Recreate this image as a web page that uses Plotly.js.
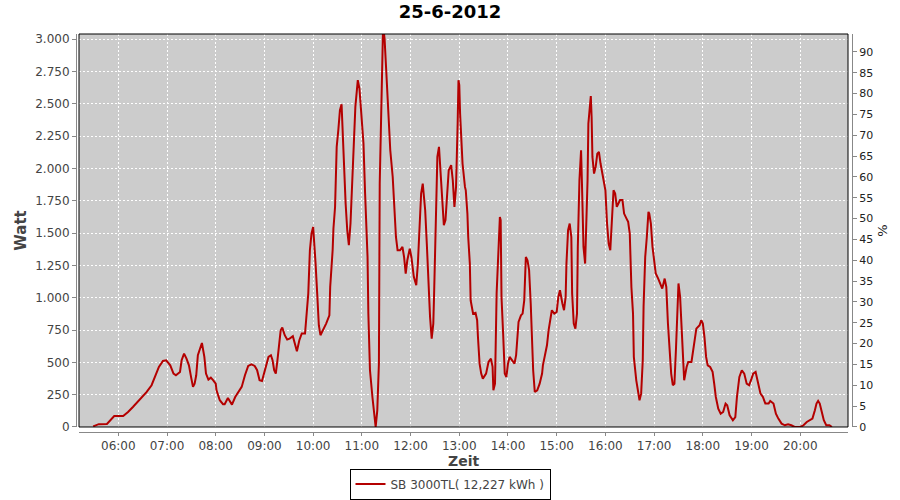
<!DOCTYPE html>
<html>
<head>
<meta charset="utf-8">
<script src="https://cdn.plot.ly/plotly-3.0.1.min.js"></script>
<style>html,body{margin:0;padding:0;background:#fff;}#chart{width:900px;height:500px;}</style>
</head>
<body>
<div id="chart"></div>
<script>
const day = "2012-06-25";
const chartTitle = "25-6-2012";
const xTitle = "Zeit";
const seriesName = "SB 3000TL( 12,227 kWh )";
const times = [
"05:29","05:33","05:36","05:46","05:50","05:55","06:06","06:12","06:18","06:26","06:35","06:41","06:45","06:50","06:55","06:59",
"07:04","07:08","07:11","07:16","07:18","07:21","07:24","07:27","07:30","07:32","07:34","07:36","07:38","07:41","07:43","07:46","07:48","07:51","07:54","07:57",
"08:00","08:01","08:05","08:09","08:11","08:15","08:20","08:24","08:28","08:32","08:36","08:40","08:44","08:48","08:51","08:54","08:57","08:59",
"09:02","09:05","09:08","09:10","09:12","09:14","09:16","09:18","09:20","09:22","09:25","09:28","09:31","09:35","09:38","09:40","09:43","09:46","09:50","09:52","09:54","09:56","09:58",
"10:00","10:01","10:03","10:05","10:07","10:09","10:12","10:16","10:20","10:21","10:24","10:25","10:27","10:28","10:29","10:31","10:33","10:35","10:36","10:38","10:40","10:42","10:44","10:46","10:48","10:50","10:52","10:55","10:57","10:59",
"11:02","11:04","11:07","11:08","11:10","11:13","11:16","11:17","11:19","11:21","11:22","11:24","11:25","11:26","11:27","11:28","11:30","11:33","11:35","11:38","11:40","11:42","11:44","11:47","11:50","11:52","11:54","11:56","11:59",
"12:01","12:04","12:07","12:09","12:11","12:13","12:15","12:18","12:20","12:22","12:24","12:26","12:28","12:29","12:31","12:33","12:35","12:37","12:39","12:41","12:43","12:45","12:47","12:50","12:52","12:54","12:56","12:58","12:59",
"13:00","13:01","13:04","13:06","13:07","13:08","13:10","13:11","13:13","13:14","13:17","13:20","13:22","13:23","13:25","13:27","13:29","13:33","13:36","13:39","13:41","13:42","13:44","13:46","13:48","13:50","13:51","13:52","13:54","13:56","13:58",
"14:00","14:02","14:06","14:08","14:10","14:11","14:13","14:16","14:18","14:20","14:21","14:22","14:24","14:26","14:28","14:29","14:31","14:33","14:36","14:39","14:42","14:43","14:46","14:48","14:50","14:52","14:54","14:57",
"15:00","15:02","15:04","15:07","15:09","15:11","15:12","15:14","15:16","15:18","15:19","15:21","15:23","15:25","15:26","15:28","15:30","15:31","15:33","15:35","15:36","15:38","15:39","15:41","15:42","15:43","15:44","15:46","15:48","15:50","15:52","15:54","15:57",
"16:00","16:02","16:04","16:06","16:08","16:10","16:12","16:14","16:16","16:18","16:21","16:23","16:26","16:28","16:30","16:32","16:34","16:35","16:38","16:40","16:42","16:44","16:46","16:47","16:49","16:51","16:53","16:54","16:56","16:58",
"17:00","17:02","17:05","17:08","17:10","17:13","17:15","17:17","17:19","17:21","17:23","17:25","17:27","17:29","17:30","17:32","17:34","17:36","17:37","17:40","17:42","17:46","17:48","17:50","17:52","17:56","17:58",
"18:00","18:02","18:04","18:06","18:09","18:12","18:14","18:16","18:19","18:22","18:25","18:28","18:30","18:33","18:37","18:40","18:42","18:45","18:48","18:51","18:54","18:57",
"19:00","19:02","19:05","19:08","19:11","19:14","19:17","19:21","19:23","19:27","19:30","19:33","19:37","19:41","19:45","19:49","19:53",
"20:00","20:04","20:08","20:12","20:15","20:18","20:20","20:22","20:24","20:26","20:29","20:32","20:36","20:39"
];
const watts = [
5,15,22,23,50,85,85,116,155,207,271,323,387,464,511,516,
477,413,400,426,516,568,529,477,374,310,335,400,555,619,650,542,413,367,382,361,
335,284,207,176,176,224,173,232,271,310,400,472,485,472,439,361,355,400,
477,542,555,516,439,413,516,645,748,769,710,676,684,702,619,586,671,723,723,851,1032,1367,1497,
1548,1470,1264,1032,787,710,748,800,864,1083,1367,1535,1702,1986,2167,2296,2451,2497,2321,2038,1729,1522,1406,1574,1857,2244,2476,2683,2619,2451,
2193,1806,1315,877,439,232,52,0,129,490,1883,2425,2812,3060,3060,3000,2760,2425,2141,1934,1651,1470,1367,1367,1393,1315,1187,1290,1380,
1315,1161,1096,1264,1574,1806,1883,1677,1419,1058,851,684,800,1032,1574,2089,2167,1986,1729,1561,1600,1780,1986,2025,1909,1703,1857,2347,2683,
2644,2425,2038,1883,1857,1831,1651,1470,1264,980,877,883,826,696,490,413,374,413,503,529,465,284,335,1032,1315,1625,1600,1006,723,413,387,
490,542,503,490,555,671,813,864,877,980,1110,1315,1290,1213,955,748,439,271,284,335,413,477,568,632,748,813,903,877,
890,1006,1058,955,903,1006,1264,1522,1574,1470,1032,800,761,877,1393,1909,2141,1909,1393,1264,1445,1909,2347,2515,2560,2399,2089,1960,2012,2115,2128,2038,1934,
1831,1574,1419,1367,1574,1831,1806,1703,1729,1755,1755,1651,1612,1587,1496,1083,877,542,361,284,207,258,516,929,1315,1470,1664,1651,1574,1393,
1264,1187,1148,1096,1071,1148,1083,800,568,413,323,335,619,955,1110,1006,696,387,361,464,503,503,594,710,761,787,826,
800,696,542,477,464,426,335,232,142,103,116,181,168,90,52,77,232,387,439,413,335,323,
374,413,426,335,258,232,181,181,201,181,103,65,26,13,20,13,0,
0,13,39,52,65,129,181,201,181,129,52,13,13,0
];
const xRange = ["05:11:36", "20:58:48"];
const wattRange = [0, 3040];
const pctRange = [0, 94.3];

const xs = times.map(t => day + " " + t);
const font = "DejaVu Sans, Verdana, sans-serif";
const gray = "#444444";
const axisGray = "#888888";

const trace = {
  x: xs, y: watts, type: "scatter", mode: "lines", name: seriesName,
  line: {color: "#b40000", width: 2},
  xaxis: "x", yaxis: "y", hoverinfo: "skip"
};
// empty trace so that the secondary (%) axis is drawn
const pctAxisTrace = {
  x: [], y: [], type: "scatter", mode: "lines", xaxis: "x", yaxis: "y2",
  showlegend: false, hoverinfo: "skip"
};

const layout = {
  width: 900, height: 500,
  margin: {l: 76, r: 48, t: 34, b: 68, pad: 0, autoexpand: false},
  paper_bgcolor: "#ffffff",
  plot_bgcolor: "#cccccc",
  separators: ",.",
  font: {family: font, size: 12, color: gray},
  title: {text: chartTitle, font: {family: font, size: 18, color: "#000", weight: "bold"},
          x: 0.5, xref: "container", xanchor: "center", y: 0.976, yref: "container", yanchor: "middle"},
  showlegend: true,
  legend: {orientation: "h", x: 0.5, xref: "container", xanchor: "center",
           y: 0.001, yref: "container", yanchor: "bottom",
           bordercolor: "#000", borderwidth: 1, bgcolor: "#fff",
           font: {family: font, size: 12, color: gray}, itemwidth: 30},
  xaxis: {
    type: "date", domain: [0.00387, 0.99485], anchor: "free", position: 0, automargin: false,
    range: [day + " " + xRange[0], day + " " + xRange[1]],
    tickformat: "%H:%M", dtick: 3600000, tick0: day + " 06:00",
    showline: true, linecolor: axisGray, linewidth: 1,
    ticks: "outside", ticklen: 3, tickcolor: axisGray,
    showgrid: true, gridcolor: "#ffffff", gridwidth: 1, griddash: "2px,2px",
    zeroline: false, tickfont: {family: font, size: 12, color: gray}
  },
  yaxis: {
    domain: [0.0126, 1], anchor: "free", position: 0, automargin: false,
    range: wattRange, dtick: 250, tick0: 0, tickformat: ",d",
    showline: true, linecolor: axisGray, linewidth: 1,
    ticks: "outside", ticklen: 4, tickcolor: axisGray,
    showgrid: true, gridcolor: "#ffffff", gridwidth: 1, griddash: "2px,2px",
    zeroline: false, tickfont: {family: font, size: 12, color: gray},
    title: {text: "Watt", font: {family: font, size: 15, color: gray, weight: "bold"}, standoff: 3}
  },
  yaxis2: {
    overlaying: "y", side: "right", anchor: "free", position: 1, automargin: false,
    range: pctRange, dtick: 5, tick0: 0,
    showline: true, linecolor: axisGray, linewidth: 1,
    ticks: "outside", ticklen: 4, tickcolor: axisGray,
    showgrid: false, zeroline: false, tickfont: {family: font, size: 11, color: "#222"},
    title: {text: "%", font: {family: font, size: 13, color: "#222"}, standoff: 5}
  },
  annotations: [{text: xTitle, xref: "x domain", x: 0.5, xanchor: "center",
                 yref: "paper", y: -0.0729, yanchor: "middle", showarrow: false,
                 font: {family: font, size: 14, color: gray, weight: "bold"}}],
  shapes: [{type: "rect", xref: "x domain", yref: "y domain", x0: 0, x1: 1, y0: 0, y1: 1,
            line: {color: "#000", width: 1}, layer: "above"}]
};

Plotly.newPlot("chart", [trace, pctAxisTrace], layout, {staticPlot: true, displayModeBar: false});
</script>
</body>
</html>
